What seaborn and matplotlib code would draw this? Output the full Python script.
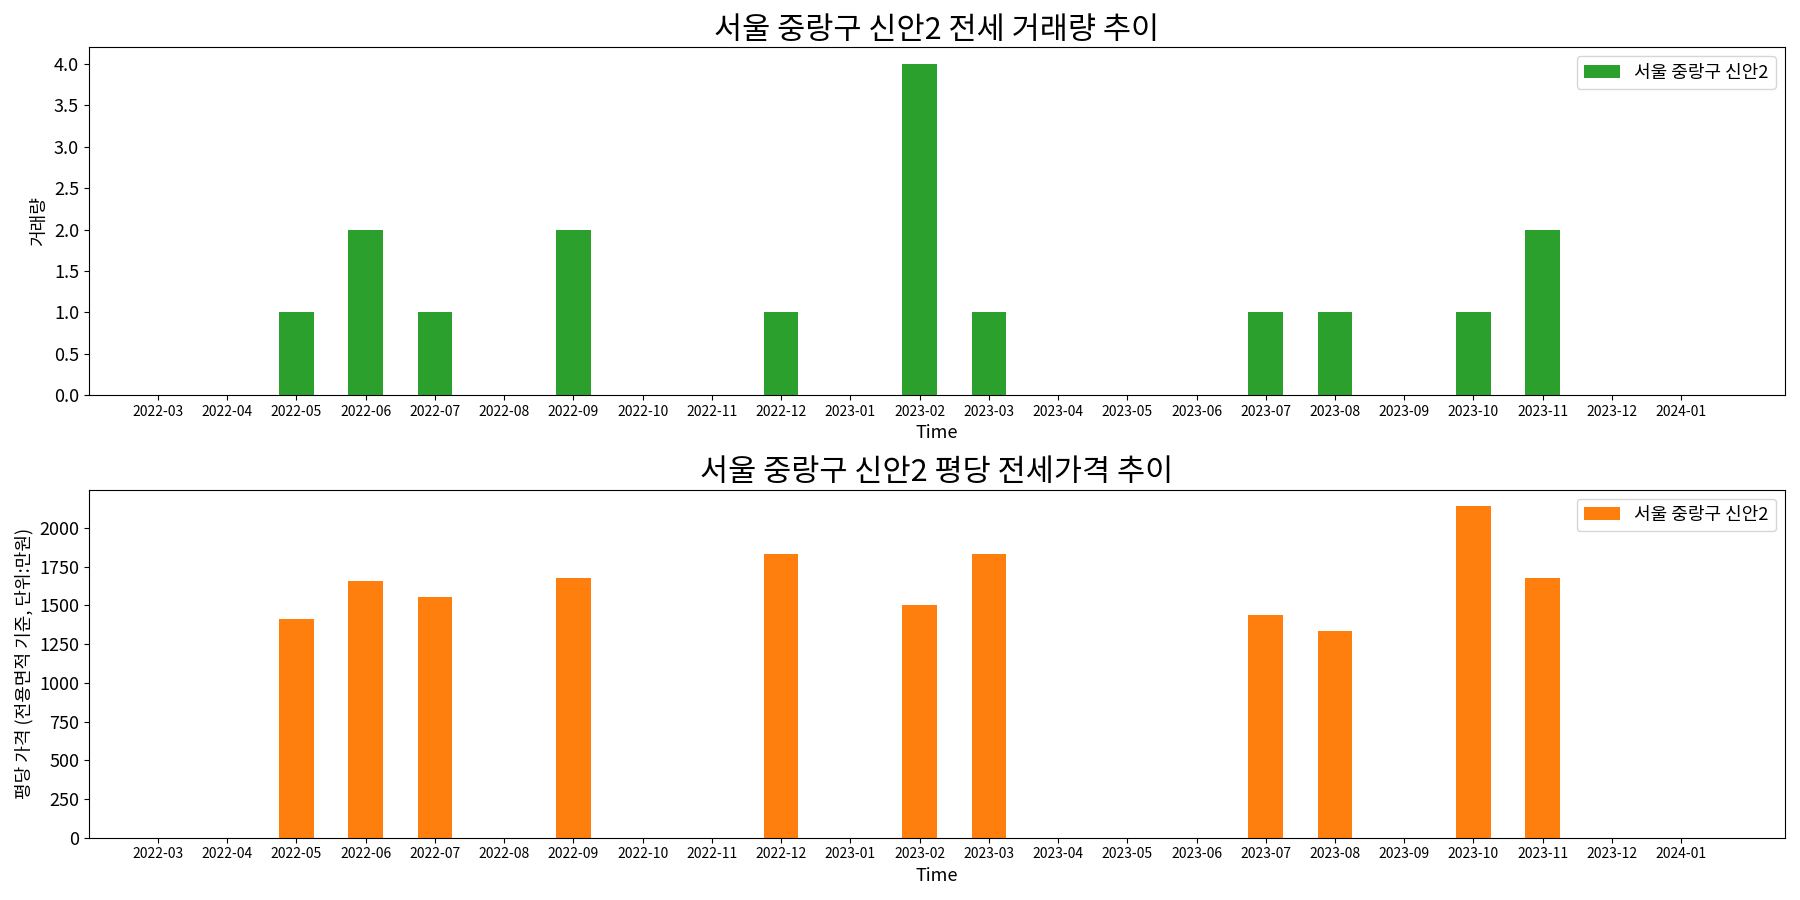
import pandas as pd
import seaborn as sns
import matplotlib.pyplot as plt

# CJK 폰트: ttc 파일은 이름이 JP/SC 로 등록되는 경우가 있어 후보를 여러 개 지정
plt.rcParams['font.family'] = ['Noto Sans CJK KR', 'Noto Sans CJK JP',
                               'Noto Sans CJK SC', 'DejaVu Sans']
plt.rcParams['axes.unicode_minus'] = False

months = ['2022-03', '2022-04', '2022-05', '2022-06', '2022-07', '2022-08', '2022-09',
          '2022-10', '2022-11', '2022-12', '2023-01', '2023-02', '2023-03', '2023-04',
          '2023-05', '2023-06', '2023-07', '2023-08', '2023-09', '2023-10', '2023-11',
          '2023-12', '2024-01']
volume = [0, 0, 1, 2, 1, 0, 2, 0, 0, 1, 0, 4, 1, 0, 0, 0, 1, 1, 0, 1, 2, 0, 0]
price = [0, 0, 1415, 1655, 1555, 0, 1680, 0, 0, 1835, 0, 1500, 1835, 0, 0, 0,
         1440, 1335, 0, 2140, 1680, 0, 0]
region = '서울 중랑구 신안2'

df = pd.DataFrame({'month': months, 'volume': volume, 'price': price})

fig, (ax1, ax2) = plt.subplots(2, 1, figsize=(18, 9), dpi=100)

# 거래량
sns.barplot(data=df, x='month', y='volume', color='#2ca02c', saturation=1,
            width=0.5, label=region, ax=ax1)
ax1.set_title(f'{region} 전세 거래량 추이', fontsize=22)
ax1.set_ylabel('거래량', fontsize=13)
ax1.set_xlabel('Time', fontsize=13)
ax1.legend(fontsize=13, loc='upper right')

# 평당 가격
sns.barplot(data=df, x='month', y='price', color='#ff7f0e', saturation=1,
            width=0.5, label=region, ax=ax2)
ax2.set_title(f'{region} 평당 전세가격 추이', fontsize=22)
ax2.set_ylabel('평당 가격 (전용면적 기준, 단위:만원)', fontsize=13)
ax2.set_xlabel('Time', fontsize=13)
ax2.legend(fontsize=13, loc='upper right')

for ax in (ax1, ax2):
    ax.tick_params(axis='x', labelsize=10)
    ax.tick_params(axis='y', labelsize=13)
    ax.set_xlim(-1, len(months) + 0.5)

plt.tight_layout()
plt.savefig('out.png')
